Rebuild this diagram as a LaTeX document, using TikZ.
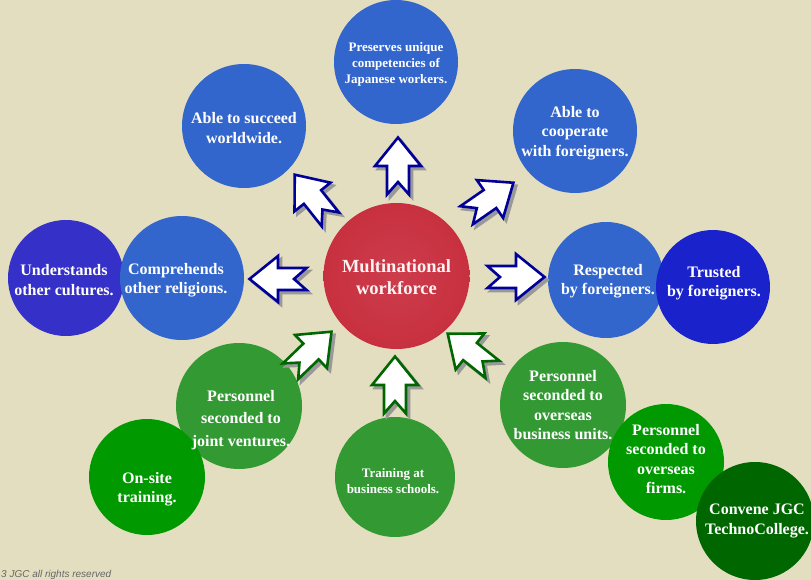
\documentclass[tikz,border=0pt]{standalone}
\usepackage{fontspec}
\setmainfont{Liberation Serif}
\setsansfont{Liberation Sans}
\definecolor{bg}{HTML}{E4DEC0}
\definecolor{cblue}{HTML}{3366CC}
\definecolor{cindigo}{HTML}{3530C8}
\definecolor{cdeep}{HTML}{1A22CC}
\definecolor{cgreen}{HTML}{339933}
\definecolor{cbright}{HTML}{009900}
\definecolor{cdark}{HTML}{006600}
\definecolor{cred}{HTML}{C8303F}
\definecolor{credl}{HTML}{CC3D4C}
\definecolor{abl}{HTML}{000099}
\definecolor{agr}{HTML}{006600}
\tikzset{
  bub/.style={circle, inner sep=0pt, minimum size=#1, draw=none},
  lbl/.style={text=white, font=\bfseries\fontsize{16}{19.5}\selectfont, align=center, inner sep=0pt},
  lbls/.style={text=white, font=\bfseries\fontsize{13}{16}\selectfont, align=center, inner sep=0pt},
  arrshadow/.style={fill=black!40, draw=black!40, line width=2.6pt},
  arrbody/.style={fill=white, draw=#1, line width=2.6pt, line join=miter},
}
\newcommand\blockarrowshape{(-28.5,11) -- (0,11) -- (0,23) -- (28.5,0) -- (0,-23) -- (0,-11) -- (-28.5,-11) -- (-16,0) -- cycle}
\newcommand\barrow[4]{%
  \begin{scope}[shift={(#1+3,#2+3)},rotate=#3]
    \path[arrshadow] \blockarrowshape;
  \end{scope}
  \begin{scope}[shift={(#1,#2)},rotate=#3]
    \path[arrbody=#4] \blockarrowshape;
  \end{scope}}
\begin{document}
\begin{tikzpicture}[x=1pt,y=-1pt]
\useasboundingbox (0,0) rectangle (811,580);
\clip (0,0) rectangle (811,580);
\fill[bg] (0,0) rectangle (811,580);

% centre
\node[bub=146, inner color=credl, outer color=cred] (mw) at (396.5,276) {};
\node[lbl, font=\bfseries\fontsize{18.5}{22}\selectfont, text=white!95!red] (mwt) at (396.5,277) {Multinational\\workforce};

% top / blue
\node[bub=124, fill=cblue] (pu) at (396,62) {};
\node[lbls] (put) at (396,64) {Preserves unique\\competencies of\\Japanese workers.};
\node[bub=124, fill=cblue] (sw) at (244,126) {};
\node[lbl] (swt) at (244,128) {Able to succeed\\worldwide.};
\node[bub=124, fill=cblue] (cf) at (575,131) {};
\node[lbl] (cft) at (575,133) {Able to\\cooperate\\with foreigners.};

% left
\node[bub=116, fill=cindigo] (uc) at (66,278) {};
\node[bub=124, fill=cblue] (cr) at (182,278) {};
\node[lbl] (uct) at (64,280) {Understands\\other cultures.};
\node[lbl] (crt) at (176,280) {Comprehends\\other religions.};

% right
\node[bub=116, fill=cblue] (rf) at (606,280) {};
\node[bub=114, fill=cdeep] (tf) at (713,287) {};
\node[lbl] (rft) at (608,281) {Respected\\by foreigners.};
\node[lbl] (tft) at (714,283) {Trusted\\by foreigners.};

% bottom / green
\node[bub=126, fill=cgreen] (jv) at (239,406) {};
\node[bub=116, fill=cbright] (os) at (147,477) {};
\node[lbl, font=\bfseries\fontsize{16}{22.5}\selectfont] (jvt) at (241,420) {Personnel\\seconded to\\joint ventures.};
\node[lbl] (ost) at (147,489) {On-site\\training.};
\node[bub=120, fill=cgreen] (bs) at (395,477) {};
\node[lbls] (bst) at (393,481) {Training at\\business schools.};
\node[bub=126, fill=cgreen] (bu) at (563,405) {};
\node[lbl] (but) at (563,405) {Personnel\\seconded to\\overseas\\business units.};
\node[bub=116, fill=cbright] (of) at (666,462) {};
\node[lbl] (oft) at (666,459) {Personnel\\seconded to\\overseas\\firms.};
\node[bub=118, fill=cdark] (tc) at (755,521) {};
\node[lbl] (tct) at (757,521) {Convene JGC\\TechnoCollege.};

% arrows
\barrow{398}{166}{90}{abl}
\barrow{312.5}{197}{128.5}{abl}
\barrow{490}{199}{34.8}{abl}
\barrow{278}{279}{180}{abl}
\barrow{516}{277}{0}{abl}
\barrow{311}{351.5}{44}{agr}
\barrow{395}{385}{90}{agr}
\barrow{470}{351.5}{141.5}{agr}

% footer
\node[anchor=base west, inner sep=0pt, text=black!60, font=\sffamily\itshape\fontsize{10}{11}\selectfont] (cp) at (1,577) {3 JGC all rights reserved};
\end{tikzpicture}
\end{document}
